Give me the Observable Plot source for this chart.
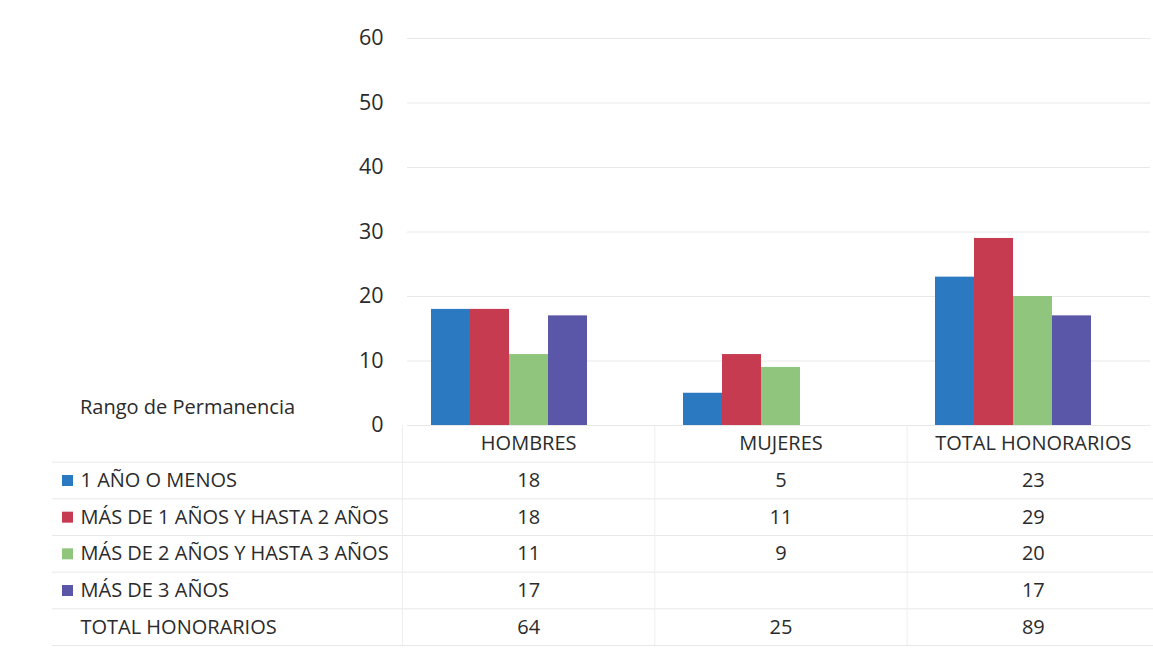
<!DOCTYPE html>
<html>
<head>
<meta charset="utf-8">
<script src="https://cdn.jsdelivr.net/npm/d3@7"></script>
<script src="https://cdn.jsdelivr.net/npm/@observablehq/plot@0.6"></script>
<style>
  body { margin: 0; background: #fff; font-family: "Open Sans", Lato, sans-serif; }
  #wrap { position: relative; width: 1153px; height: 652px; overflow: hidden; background: #fff; }
  #chart, #table { position: absolute; left: 0; }
  #chart { top: 0; }
  #table { top: 425px; }
  #rango { position: absolute; left: 80px; top: 393px; font-size: 20px; color: #2b2b2b; white-space: nowrap; }
</style>
</head>
<body>
<div id="wrap">
  <div id="chart"></div>
  <div id="table"></div>
  <div id="rango">Rango de Permanencia</div>
</div>
<script>
// Categories (columns of the data table)
const groups = ["HOMBRES", "MUJERES", "TOTAL HONORARIOS"];
// Series (rows of the data table / legend)
const series = [
  "1 AÑO O MENOS",
  "MÁS DE 1 AÑOS Y HASTA 2 AÑOS",
  "MÁS DE 2 AÑOS Y HASTA 3 AÑOS",
  "MÁS DE 3 AÑOS"
];
const colors = ["#2a79c1", "#c73b51", "#8fc57c", "#5a56a8"];

// Values per series, in the order of `groups`
const unoOMenos   = [18, 5, 23];
const unoADos     = [18, 11, 29];
const dosATres    = [11, 9, 20];
const masDeTres   = [17, null, 17];
const totalLabel  = "TOTAL HONORARIOS";
const totales     = [64, 25, 89];

const yTicks = [0, 10, 20, 30, 40, 50, 60];

const seriesValues = [unoOMenos, unoADos, dosATres, masDeTres];
const cells = series.flatMap((s, i) =>
  groups.map((g, j) => ({ series: s, si: i, group: g, gi: j, value: seriesValues[i][j] }))
);
const totalCells = groups.map((g, j) => ({ group: g, gi: j, value: totales[j] }));

const font = "'Open Sans', Lato, sans-serif";
const ink = "#2b2b2b";
const fs = 20;

// ---- Clustered column chart ----
const bandW = 252, slot = 39, pad = (bandW - series.length * slot) / 2;
const chart = Plot.plot({
  width: 1153,
  height: 440,
  marginLeft: 407,
  marginRight: 3,
  marginTop: 38,
  marginBottom: 15,
  style: { fontFamily: font, fontSize: "21.5px", color: ink, background: "transparent" },
  x: { type: "band", domain: groups, range: [383, 1139], padding: 0, axis: null },
  y: { domain: [0, 60], ticks: yTicks, tickSize: 0, tickPadding: 24, label: null },
  marks: [
    Plot.ruleY(yTicks, { stroke: "#e8e8e8", strokeWidth: 1 }),
    ...series.map((s, i) =>
      Plot.barY(cells.filter(d => d.si === i && d.value != null), {
        x: "group",
        y: "value",
        fill: colors[i],
        insetLeft: pad + i * slot,
        insetRight: pad + (series.length - 1 - i) * slot
      })
    )
  ]
});
document.getElementById("chart").appendChild(chart);

// ---- Data table under the chart ----
// rows: 0 = category header, 1..4 = series, 5 = total
const nRows = series.length + 2;
const table = Plot.plot({
  width: 1153,
  height: 227,
  marginLeft: 52,
  marginRight: 0,
  marginTop: 0,
  marginBottom: 7,
  style: { fontFamily: font, fontSize: fs + "px", color: ink, background: "transparent" },
  x: { domain: [0, groups.length], range: [402, 1159], axis: null },
  y: { domain: [0, nRows], range: [0, 220], axis: null },
  marks: [
    // horizontal cell borders
    Plot.ruleY(d3.range(1, nRows + 1), { stroke: "#e8e8e8", strokeWidth: 1 }),
    // vertical cell borders of the value columns
    Plot.ruleX(d3.range(0, groups.length), { y1: 0, y2: nRows, stroke: "#eeeeee", strokeWidth: 1 }),
    // category header
    Plot.text(groups, { x: (d, j) => j + 0.5, y: 0.5, text: d => d, fill: ink, fontSize: fs }),
    // series labels with colour keys
    Plot.dot(series, { y: (d, i) => i + 1.5, frameAnchor: "left", dx: 15, symbol: "square", r: 6.2, fill: (d, i) => colors[i] }),
    Plot.text(series, { y: (d, i) => i + 1.5, frameAnchor: "left", dx: 28, textAnchor: "start", text: d => d, fill: ink, fontSize: fs }),
    Plot.text([totalLabel], { y: nRows - 0.5, frameAnchor: "left", dx: 28, textAnchor: "start", text: d => d, fill: ink, fontSize: fs }),
    // series values
    Plot.text(cells.filter(d => d.value != null), { x: d => d.gi + 0.5, y: d => d.si + 1.5, text: d => String(d.value), fill: ink, fontSize: fs }),
    // totals
    Plot.text(totalCells, { x: d => d.gi + 0.5, y: nRows - 0.5, text: d => String(d.value), fill: ink, fontSize: fs })
  ]
});
document.getElementById("table").appendChild(table);
</script>
</body>
</html>
